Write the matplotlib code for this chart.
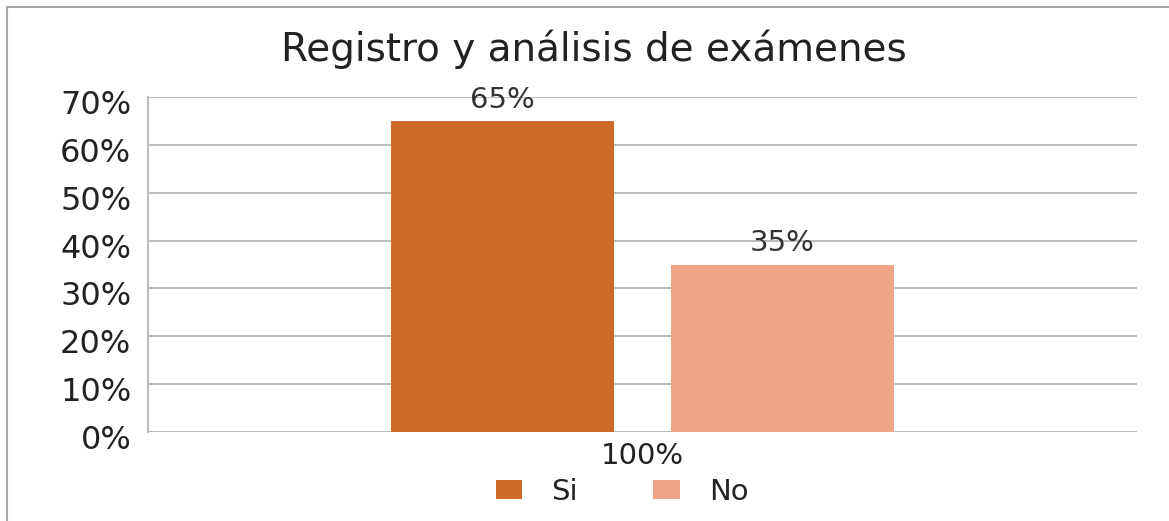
import matplotlib
matplotlib.use("Agg")
import matplotlib.pyplot as plt
import matplotlib.transforms as mtransforms
from matplotlib.patches import Rectangle
import numpy as np

# data
categories = ["100%"]
series_names = ["Si", "No"]
si_values = [0.65]
no_values = [0.35]
colors = ["#CE6B28", "#F0A488"]
y_ticks = [0, 0.1, 0.2, 0.3, 0.4, 0.5, 0.6, 0.7]

fig = plt.figure(figsize=(11.69, 5.21), dpi=100)
ax = fig.add_axes([148 / 1169, 1 - 432 / 521, (1137 - 148) / 1169, (432 - 97) / 521])

x = np.arange(len(categories))
width = 0.2255
offset = width / 2 + 0.0288
bars_si = ax.bar(x - offset, si_values, width, color=colors[0], label=series_names[0])
bars_no = ax.bar(x + offset, no_values, width, color=colors[1], label=series_names[1])

# value labels above bars
for bars in (bars_si, bars_no):
    for b in bars:
        ax.text(b.get_x() + b.get_width() / 2, b.get_height() + 0.015,
                f"{b.get_height() * 100:.0f}%", ha="center", va="bottom",
                fontsize=21, color="#333333")

ax.set_xlim(-0.5, 0.5)
ax.set_ylim(0, 0.7)
ax.set_yticks(y_ticks)
ax.set_yticklabels([f"{int(round(t * 100))}%" for t in y_ticks], fontsize=23, color="#222222")
ax.set_xticks(x)
ax.set_xticklabels(categories, fontsize=21, color="#222222")
ax.tick_params(axis="y", length=0, pad=12)
ax.tick_params(axis="x", length=0, pad=7)

# shift y tick labels slightly down like the original
shift = mtransforms.ScaledTranslation(0, -5 / 100, fig.dpi_scale_trans)
for lab in ax.get_yticklabels():
    lab.set_transform(lab.get_transform() + shift)

ax.grid(axis="y", color="#BEBEBE", linewidth=1.5)
ax.set_axisbelow(True)
for side in ("top", "right", "bottom"):
    ax.spines[side].set_visible(False)
ax.spines["left"].set_color("#BEBEBE")
ax.spines["left"].set_linewidth(1.5)

fig.text(594 / 1169, 1 - 49 / 521, "Registro y análisis de exámenes",
         ha="center", va="center", fontsize=28, color="#222222")

leg = fig.legend(loc="center", bbox_to_anchor=(622 / 1169, 1 - 492 / 521), ncol=2,
                 frameon=False, fontsize=21, handlelength=0.9, handleheight=0.6,
                 columnspacing=2.6, handletextpad=1.0)
for t in leg.get_texts():
    t.set_color("#222222")

# outer frame (cropped on the right and bottom in the original)
fig.patches.append(Rectangle((7 / 1169, -0.2), 1.2, 1.2 - 7 / 521, transform=fig.transFigure,
                             fill=False, edgecolor="#A6A6A6", linewidth=1.5, clip_on=False))

fig.savefig("out.png", dpi=100, facecolor="white")
